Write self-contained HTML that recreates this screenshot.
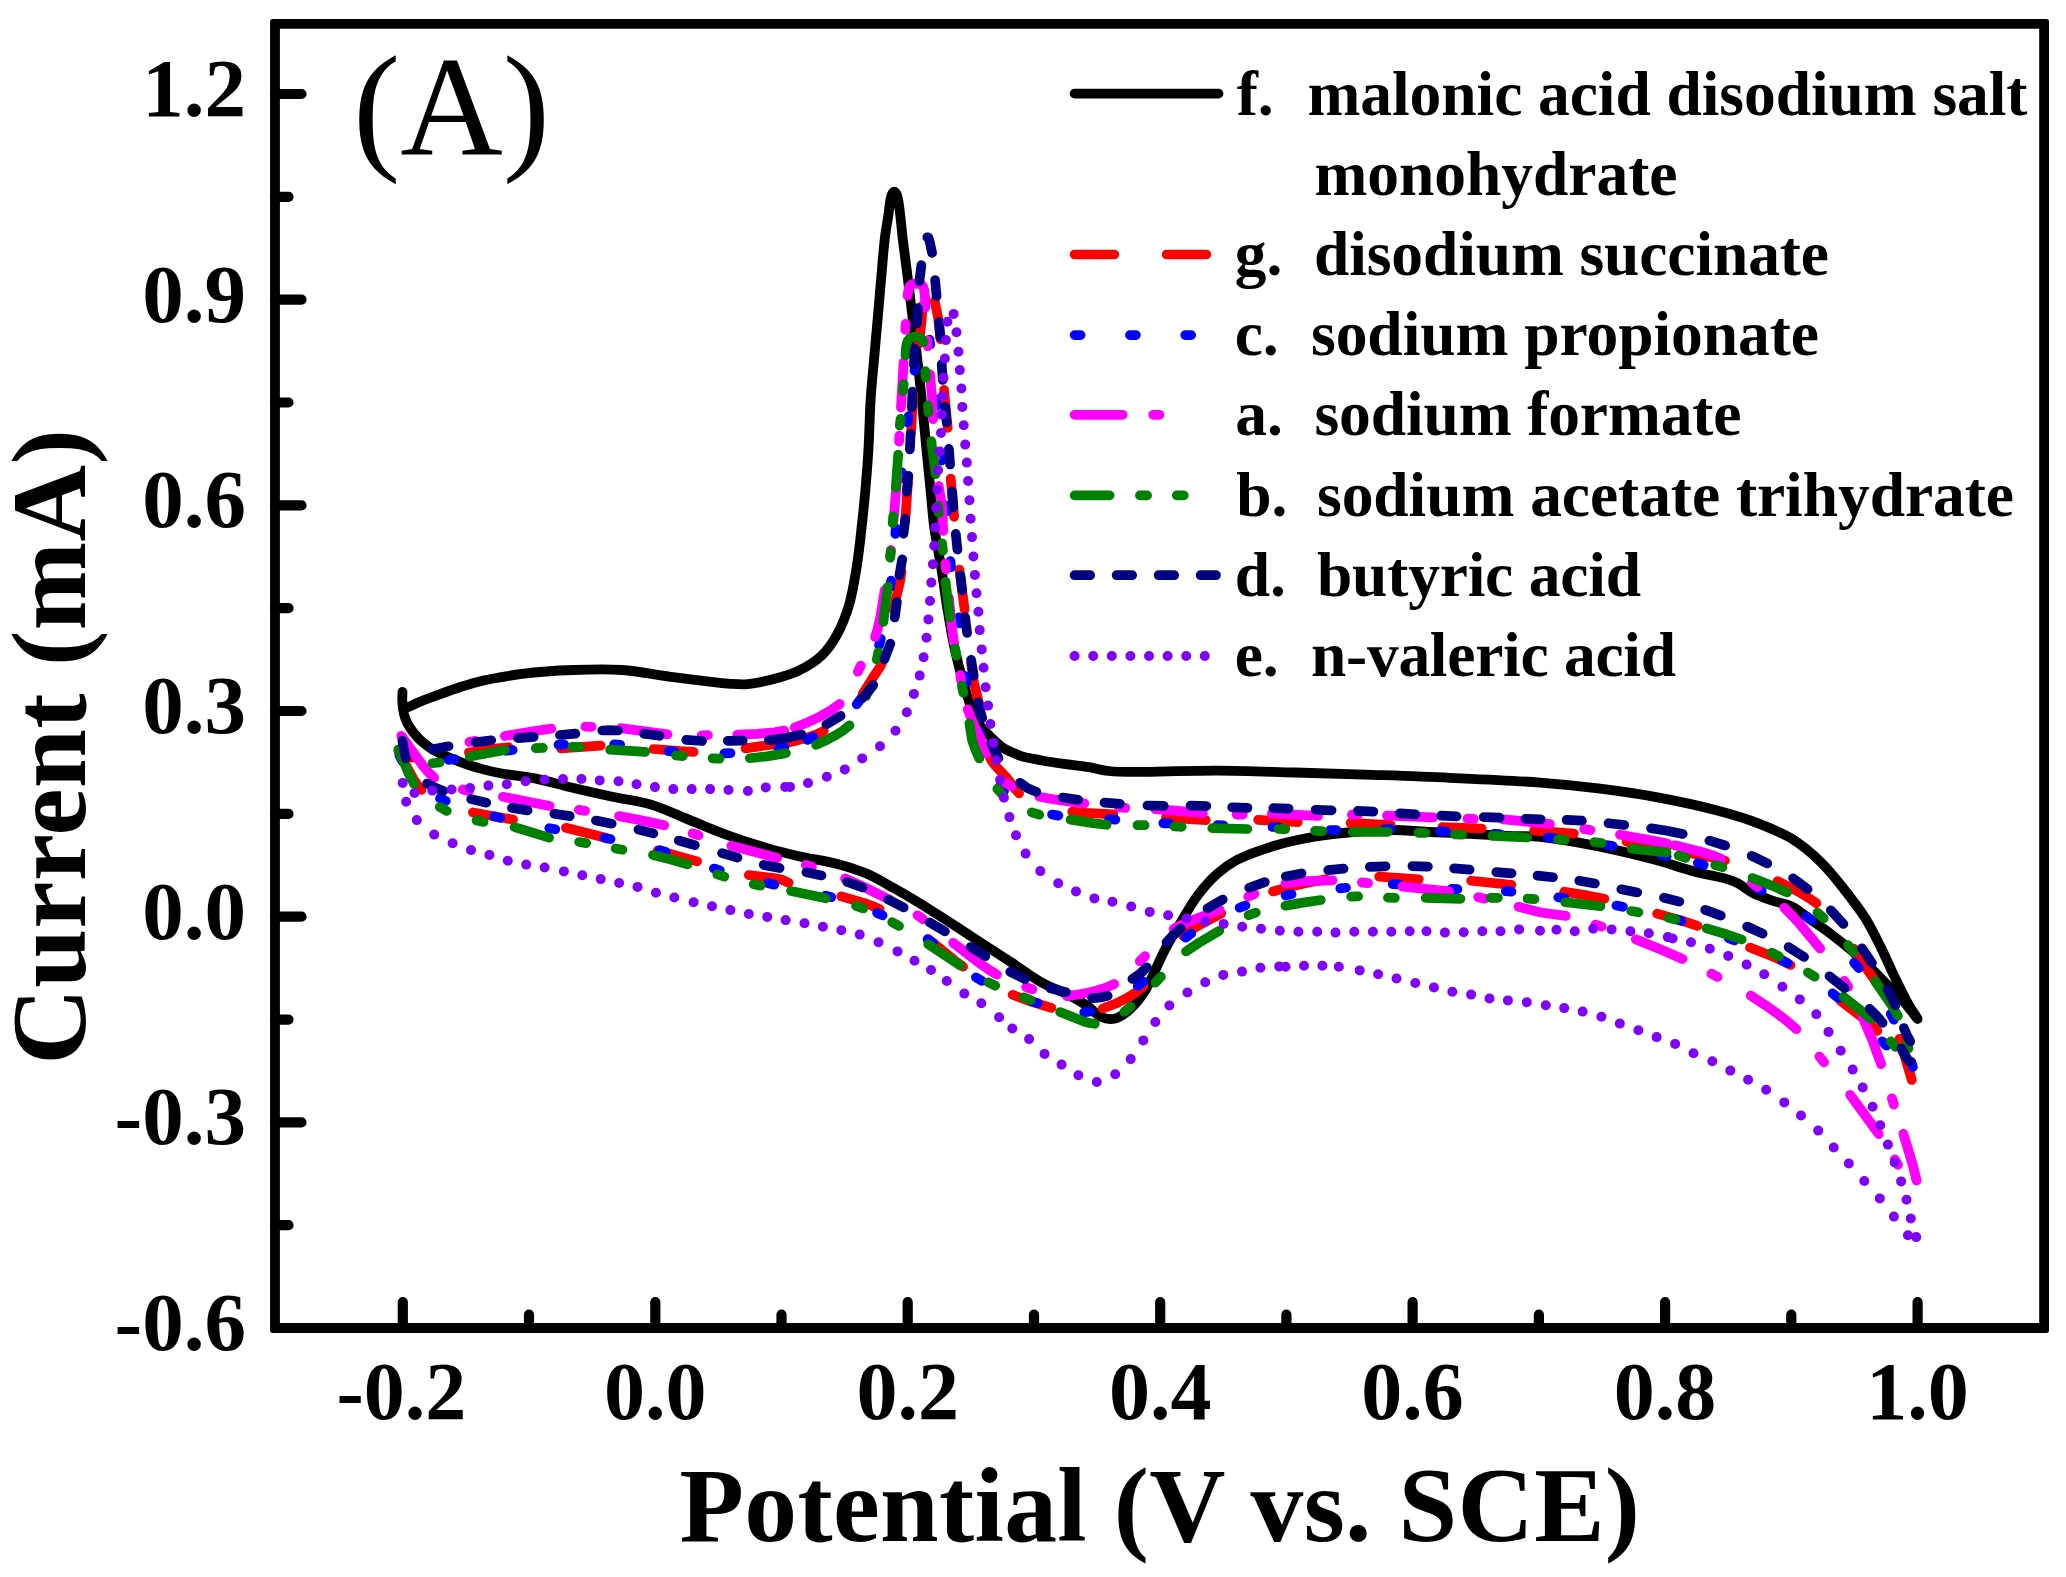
<!DOCTYPE html>
<html lang="en"><head><meta charset="utf-8"><title>Cyclic voltammograms (A)</title>
<style>html,body{margin:0;padding:0;background:#fff}body{width:2066px;height:1577px;overflow:hidden}svg{display:block}</style>
</head><body>
<svg width="2066" height="1577" viewBox="0 0 2066 1577">
<rect width="2066" height="1577" fill="#fff"/>
<g fill="none" stroke-linecap="round" stroke-linejoin="round">
<path id="cv-f" d="M402.5 691.8C402.4 694.7 402.2 697.4 402.3 700.4C402.4 703.7 402.7 707.4 403.3 710.6C403.8 713.5 404.4 716.0 405.4 718.7C406.4 721.5 407.8 724.2 409.4 726.8C411.1 729.6 413.2 732.3 415.5 734.9C417.9 737.7 420.6 740.6 423.6 743.1C426.7 745.7 430.2 748.1 433.8 750.2C437.6 752.4 441.7 754.3 446.0 756.2C450.8 758.3 455.7 760.3 461.2 762.3C467.4 764.6 474.7 767.0 481.5 768.9C488.2 770.8 494.2 772.1 501.8 773.5C511.5 775.3 523.5 776.2 534.9 778.4C547.3 780.9 560.7 785.0 573.6 788.1C586.5 791.2 599.4 794.1 612.3 796.8C625.2 799.6 638.3 800.8 651.1 804.6C664.1 808.5 676.9 814.9 689.8 820.1C702.7 825.2 715.5 830.8 728.5 835.5C741.3 840.2 754.9 844.6 767.2 848.1C778.2 851.3 787.6 853.6 798.7 856.2C810.9 858.9 825.6 860.8 837.4 863.9C847.9 866.7 857.0 869.5 866.5 873.6C876.3 877.8 885.2 883.3 895.5 889.1C907.6 895.9 921.4 904.3 934.2 912.3C947.2 920.4 960.1 929.1 973.0 937.5C985.9 945.9 999.7 954.8 1011.7 962.7C1022.1 969.5 1030.8 976.4 1040.7 982.0C1050.2 987.3 1061.2 991.0 1069.8 995.6C1077.0 999.4 1083.6 1003.3 1089.1 1007.2C1093.6 1010.4 1096.4 1014.9 1100.8 1016.9C1104.9 1018.7 1109.9 1019.6 1114.3 1018.8C1119.0 1017.9 1123.5 1014.6 1127.9 1011.1C1133.2 1006.7 1139.3 999.5 1143.3 993.6C1146.9 988.5 1148.6 984.2 1151.6 978.1C1155.7 970.0 1160.4 958.1 1165.2 949.1C1169.5 940.8 1173.7 934.1 1178.7 925.9C1184.5 916.2 1191.2 904.0 1198.1 894.9C1204.2 886.8 1210.6 879.6 1217.4 873.6C1223.6 868.2 1228.9 864.2 1236.8 860.0C1247.2 854.6 1262.5 849.4 1275.5 845.5C1288.3 841.7 1301.3 839.1 1314.2 836.8C1327.1 834.6 1340.0 833.1 1353.0 832.0C1365.9 830.8 1378.8 830.0 1391.7 830.0C1404.6 830.0 1417.5 831.3 1430.4 832.0C1443.3 832.6 1456.2 833.3 1469.1 833.9C1482.0 834.5 1495.6 835.3 1507.9 835.8C1519.1 836.3 1528.8 835.8 1540.0 836.8C1552.3 837.9 1565.8 840.4 1578.7 842.6C1591.7 844.9 1604.6 847.5 1617.4 850.4C1630.4 853.3 1643.3 856.5 1656.2 860.0C1669.1 863.6 1681.9 868.1 1694.9 871.7C1707.8 875.2 1723.2 877.0 1733.6 881.3C1741.5 884.6 1746.4 889.7 1753.0 893.0C1759.3 896.1 1765.8 898.4 1772.3 900.7C1778.7 902.9 1785.5 903.5 1791.7 906.5C1798.4 909.8 1804.6 915.5 1811.1 920.1C1817.5 924.6 1824.0 928.8 1830.4 933.6C1836.9 938.5 1843.4 943.7 1849.8 949.1C1856.3 954.6 1862.8 960.5 1869.1 966.5C1875.7 972.7 1882.6 980.0 1888.5 985.9C1893.4 990.8 1897.5 994.4 1902.1 999.4C1907.2 1005.2 1917.2 1019.1 1917.5 1018.8C1917.9 1018.6 1911.2 1009.3 1907.9 1003.3C1903.5 995.6 1898.8 985.4 1894.3 976.2C1889.7 966.7 1885.6 956.8 1880.8 947.2C1875.9 937.4 1871.2 927.6 1865.3 918.1C1859.0 908.2 1851.4 898.5 1844.0 889.1C1836.6 879.7 1829.3 870.3 1820.7 862.0C1812.0 853.5 1802.5 845.4 1791.7 838.7C1780.1 831.7 1766.0 826.2 1753.0 821.3C1740.2 816.6 1728.5 813.4 1714.2 809.7C1696.9 805.2 1675.6 800.7 1656.2 797.1C1636.9 793.6 1617.5 790.8 1598.1 788.4C1578.8 786.0 1561.5 784.2 1540.0 782.6C1513.2 780.5 1478.7 779.1 1449.8 777.8C1423.0 776.5 1398.1 775.7 1372.3 774.8C1346.5 774.0 1320.7 773.2 1294.9 772.5C1269.1 771.8 1243.3 770.7 1217.4 770.6C1191.6 770.5 1147.8 771.9 1140.0 771.9C1138.6 772.0 1138.8 772.0 1137.5 771.9C1133.2 771.9 1117.2 772.0 1108.5 771.0C1101.4 770.2 1096.0 768.2 1089.1 767.1C1081.3 765.8 1072.1 765.1 1063.9 763.9C1056.0 762.8 1048.1 761.6 1040.7 760.2C1033.9 758.9 1026.6 757.7 1021.3 756.1C1017.5 754.9 1014.7 753.5 1011.7 752.2C1008.9 751.0 1006.6 750.2 1003.9 748.4C1000.3 746.0 996.3 742.4 992.3 738.5C987.4 733.6 981.3 728.5 976.8 721.1C971.0 711.1 967.2 695.3 963.3 682.3C959.5 669.5 956.4 656.6 953.6 643.6C950.9 630.8 948.9 617.8 946.8 604.9C944.7 592.0 943.1 579.1 941.0 566.2C938.9 553.2 936.0 540.4 934.2 527.4C932.5 514.6 931.7 501.6 930.4 488.7C929.1 475.8 927.9 463.8 926.5 450.0C924.9 434.0 923.3 415.1 921.6 398.4C920.0 382.5 918.2 367.3 916.5 352.0C914.8 336.9 913.0 321.1 911.3 307.0C909.8 294.6 908.4 283.5 907.0 272.0C905.6 260.7 903.9 248.7 902.7 238.5C901.7 230.0 901.1 222.1 900.2 215.0C899.5 209.1 898.9 202.9 898.0 199.0C897.5 196.7 897.1 194.9 896.3 193.6C895.7 192.7 895.0 191.6 894.3 191.6C893.6 191.6 892.9 192.7 892.3 193.6C891.5 194.9 891.1 196.7 890.6 199.0C889.7 202.9 889.2 209.2 888.4 215.0C887.4 222.1 885.8 230.0 884.8 238.5C883.6 248.7 882.7 260.7 881.7 272.0C880.7 283.5 879.8 294.6 878.7 307.0C877.5 321.1 876.0 336.9 874.7 352.0C873.4 367.3 871.7 382.5 870.7 398.4C869.6 415.1 869.4 434.0 868.4 450.0C867.6 463.8 866.6 475.8 865.5 488.7C864.4 501.6 863.1 514.5 861.6 527.4C860.2 540.4 858.9 553.3 856.8 566.2C854.7 579.1 852.6 593.1 849.1 604.9C845.9 615.4 842.2 625.3 837.4 633.9C833.1 641.9 828.3 649.2 822.0 655.2C815.4 661.5 806.4 666.9 798.7 670.7C792.2 674.0 786.7 675.5 779.4 677.5C770.2 680.1 757.1 683.3 747.9 684.1C740.7 684.8 736.7 684.2 728.5 683.6C714.3 682.5 688.9 679.2 670.4 676.8C653.5 674.6 638.2 671.1 622.0 670.0C605.9 668.9 590.0 669.4 573.6 670.0C556.7 670.6 535.2 672.2 522.0 673.8C513.7 674.8 508.5 675.9 501.8 677.1C495.0 678.3 488.2 679.3 481.5 680.9C474.7 682.5 467.9 684.6 461.2 686.7C454.4 688.9 447.7 691.3 440.9 693.8C434.1 696.3 426.6 699.0 420.6 701.5C415.8 703.5 411.9 705.4 407.6 707.3" stroke="#000000" stroke-width="9.8"/>
<path id="cv-g" d="M398.4 751.3L413.4 778.8L417.6 785.2L421.4 789.9M472.9 812.4L513.0 819.6M565.9 827.8L605.5 837.7M657.8 850.4L697.1 861.3M748.8 875.1L777.7 878.6L782.6 880.0L788.7 882.8M841.3 896.3L863.6 902.8L872.0 905.8L879.7 909.2M928.1 938.8L953.9 959.8L963.1 966.7M1012.6 994.8L1031.1 1001.7L1051.4 1007.9M1102.7 1008.5L1115.3 1003.8L1126.7 998.2L1136.1 992.3L1143.5 986.1M1183.0 935.8L1190.0 930.8L1197.7 925.9L1221.2 913.4M1273.0 891.5L1285.6 887.9M1285.6 887.9L1307.2 882.7L1325.9 879.4M1379.1 876.6L1418.8 879.3M1471.1 880.7L1511.3 884.9M1564.2 891.7L1587.0 895.4L1604.4 898.8M1657.1 913.7L1681.8 920.7L1697.4 925.8M1750.0 947.6L1775.8 957.8L1790.5 965.0M1840.7 1000.8L1863.8 1018.7L1871.5 1025.3L1877.4 1031.0M1911.8 1080.0L1899.5 1038.8M1878.0 985.0L1869.1 972.3L1853.5 948.5M1816.4 903.3L1809.4 898.4L1801.2 893.3L1777.6 881.1M1724.9 860.6L1708.7 856.7L1685.1 852.2M1666.6 848.6L1626.6 841.6M1573.9 833.7L1534.1 830.6M1481.7 828.5L1442.4 827.1M1390.7 825.0L1350.6 822.9M1297.8 822.1L1258.1 819.8M1205.8 820.2L1165.9 817.6M1113.3 814.3L1085.9 812.9L1072.2 811.7M1019.1 793.4L1015.4 789.2L1005.9 776.8L994.6 764.9L992.1 761.6L989.9 757.4M979.2 703.9L974.1 683.3L971.1 663.3M964.6 609.7L959.4 569.6M954.1 516.8L950.7 478.5M947.7 428.0L944.0 389.8M940.5 339.3L938.2 318.2L934.7 301.0M922.6 305.6L921.6 321.4L918.7 343.9M913.2 394.3L911.0 432.6M907.9 483.1L905.2 521.4M901.6 571.8L899.8 582.5L895.9 599.2L893.8 610.1M883.2 660.4L879.4 668.1L872.3 678.5L862.6 694.1M823.8 730.8L816.6 734.4L808.1 737.4L798.1 740.2L784.8 743.2M784.8 743.2L760.7 746.1L745.5 748.4M693.6 751.9L680.1 751.2L653.5 749.0M600.7 745.6L561.0 748.4M508.7 747.2L497.4 748.4L468.9 752.5M416.3 757.2L405.2 758.1" stroke="#ff0000" stroke-width="9.7"/>
<path id="cv-c" d="M399.4 755.2L402.3 761.1M440.0 798.4L445.8 801.0M494.1 816.4L500.1 817.9M549.3 828.2L555.3 829.3M604.5 837.9L610.5 839.1M659.7 850.2L665.6 851.9M713.9 868.5L719.8 870.3M768.1 883.2L774.4 884.7M825.7 895.6L831.3 897.2M877.1 913.0L882.6 915.4M927.5 939.5L933.0 943.1M975.9 977.4L981.8 980.9M1031.9 1001.4L1037.6 1003.1M1084.2 1012.4L1090.2 1011.5M1137.7 986.0L1143.5 981.5M1185.7 937.7L1191.2 933.5M1239.6 907.7L1245.5 905.4M1285.6 895.4L1291.6 894.3M1340.3 888.4L1346.0 887.8M1392.6 884.2L1399.0 884.3M1451.6 888.9L1457.5 889.2M1505.8 891.2L1511.5 891.6M1558.3 897.4L1564.6 898.2M1616.4 905.6L1622.8 906.8M1675.4 919.2L1681.2 920.9M1728.7 938.3L1734.5 940.5M1782.0 960.1L1787.7 963.2M1832.6 993.4L1838.3 998.1M1882.2 1041.4L1886.4 1045.7M1912.9 1067.1L1911.3 1061.9M1893.9 1019.7L1890.8 1013.9M1858.8 968.2L1854.1 962.6M1811.8 920.3L1806.7 916.3M1761.7 890.5L1755.5 887.4M1703.7 864.9L1697.8 863.0M1666.7 856.3L1660.9 855.1M1612.7 846.0L1606.3 845.0M1553.7 838.1L1547.8 837.5M1499.8 834.2L1494.0 833.9M1446.0 831.5L1440.0 831.2M1390.8 829.1L1384.9 829.0M1336.6 830.1L1330.3 830.0M1278.5 827.3L1272.5 827.0M1223.4 825.3L1217.5 825.1M1169.1 823.3L1163.3 823.3M1115.4 819.6L1109.2 819.2M1058.3 815.6L1052.0 814.5M1004.0 791.2L1000.2 785.6M981.1 737.2L979.3 731.3M966.8 682.4L965.6 676.0M959.8 623.4L959.0 617.3M951.1 567.2L950.4 561.1M947.1 511.1L946.6 505.6M941.3 460.7L940.7 454.8M936.5 406.0L935.8 399.3M930.2 344.7L929.5 339.7M915.6 365.2L914.4 370.7M908.5 416.4L907.7 422.5M901.9 472.4L901.3 478.4M895.8 528.3L895.3 534.0M891.1 580.6L890.2 586.9M880.8 638.7L879.1 645.3M860.7 698.9L856.7 704.3M813.2 736.9L807.5 739.9M784.4 747.5L778.6 748.4M730.5 753.1L724.4 753.3M674.4 751.6L668.5 751.1M620.2 744.8L614.1 744.4M564.0 744.4L558.5 744.7M512.7 750.0L506.4 750.8M454.6 759.2L448.7 760.0" stroke="#0000ff" stroke-width="9.7"/>
<path id="cv-a" d="M401.3 735.8L423.0 765.9L428.9 772.9L434.1 777.6M462.8 789.4L469.0 791.0M502.9 796.8L549.6 806.0M578.9 809.9L585.1 810.8M619.1 816.1L643.9 820.9L664.3 825.3M692.6 833.4L698.5 835.2M731.4 845.7L777.1 858.0M805.9 864.9L811.9 866.6M845.1 878.5L866.1 888.0L889.8 899.8M917.5 915.3L923.1 919.2M953.2 942.8L980.7 964.0L989.3 970.0L996.8 974.6M1026.2 987.1L1032.4 989.4M1066.9 996.1L1080.5 994.2L1094.5 991.2L1106.0 987.7L1114.2 984.0M1139.8 961.3L1145.0 956.2M1173.7 928.8L1180.3 925.4L1188.7 921.7L1219.6 910.0M1248.3 896.6L1254.4 894.0M1285.5 883.4L1294.8 882.2L1305.8 881.2L1332.5 880.4M1361.9 882.5L1368.1 883.1M1402.4 886.7L1449.1 891.3M1478.3 897.2L1484.5 898.6M1518.5 906.8L1540.8 912.5L1565.8 915.9M1595.4 924.6L1601.6 926.7M1635.8 939.4L1662.6 950.2L1682.5 958.9M1711.4 973.7L1717.5 976.9M1750.8 995.6L1765.2 1005.1L1777.7 1013.9L1788.1 1022.0L1796.3 1029.1M1819.4 1056.5L1824.1 1062.3M1850.2 1094.8L1878.8 1134.1M1894.8 1159.4L1898.0 1164.8M1916.6 1180.5L1913.0 1166.0L1903.4 1133.7M1893.8 1104.5L1891.9 1098.3M1881.1 1064.2L1872.1 1039.6L1862.4 1016.5M1848.1 986.9L1844.3 980.8M1820.2 948.6L1800.2 924.5L1791.9 915.5L1784.3 907.8M1757.5 887.0L1751.9 882.6M1721.1 858.7L1713.6 855.7L1704.5 852.8L1674.7 845.3M1667.0 843.5L1648.1 839.7L1620.0 834.7M1590.4 830.0L1584.2 829.1M1549.9 824.2L1522.7 821.1L1503.1 819.4M1473.7 818.9L1467.5 818.7M1433.3 817.3L1387.0 815.6M1358.0 814.6L1351.9 814.6M1318.1 815.8L1271.8 813.6M1242.8 814.5L1236.7 814.5M1202.9 813.2L1155.3 809.0M1125.3 807.9L1119.1 807.4M1084.3 803.3L1055.7 799.7L1039.4 796.8M1011.6 786.4L1005.9 783.3M986.1 753.5L982.2 742.7L971.9 720.0L967.7 709.3M961.3 681.2L960.3 675.2M954.0 642.5L951.5 624.6L948.9 597.7M946.1 569.5L945.5 563.6M943.2 530.9L942.1 506.8L938.7 486.0M935.0 457.9L934.4 452.0M933.0 419.2L932.2 400.4L930.1 374.4M927.7 346.2L927.3 340.3M925.2 307.6L925.0 297.3L924.4 291.1L923.3 287.0L921.4 284.7L919.0 283.8L915.1 283.6L912.8 284.0L910.7 285.2L909.6 286.6L908.8 288.5L907.5 295.7M905.6 323.9L905.3 329.8M903.6 362.5L901.0 407.4M899.4 435.6L899.1 441.5M897.5 474.2L893.5 520.8M891.0 550.0L890.2 556.2M884.8 590.1L879.8 620.0L877.5 629.5L875.1 636.9M860.8 665.6L857.9 671.7M839.7 704.0L831.5 710.0L820.5 716.3L808.1 722.2L794.7 727.5M784.2 730.7L774.6 732.3L757.5 733.9L737.3 734.7M707.9 735.2L701.7 735.3M667.5 734.4L620.8 728.2M591.6 726.8L585.4 726.7M551.3 728.6L534.7 731.0L504.8 736.0M475.5 740.9L469.4 741.9" stroke="#ff00ff" stroke-width="9.8"/>
<path id="cv-b" d="M398.4 749.4L408.9 774.0L414.1 784.0M439.8 807.1L446.8 810.9M476.5 820.5L483.6 822.0M514.6 827.1L549.1 837.7M579.1 842.0L586.2 843.1M615.6 848.5L622.5 849.7M653.0 855.0L669.2 859.1L687.5 864.3M717.3 874.4L724.3 876.6M753.6 884.3L760.5 885.7M791.0 891.0L825.9 898.3M856.1 905.9L863.2 908.5M892.2 922.2L899.0 925.9M928.2 944.3L960.2 965.5M988.4 982.4L995.2 985.7M1023.7 997.3L1030.5 1000.1M1060.1 1012.0L1082.7 1021.1L1089.2 1023.0L1094.8 1023.8M1124.2 1011.9L1130.6 1006.5M1155.4 982.6L1160.9 976.7M1186.0 951.5L1198.8 942.9L1219.3 930.8M1248.6 915.1L1255.8 912.6M1285.4 905.7L1285.9 905.6M1285.9 905.6L1301.4 902.9L1320.8 900.0M1351.1 896.6L1358.2 896.4M1387.9 897.7L1394.9 897.9M1425.6 897.9L1460.5 898.8M1490.7 897.8L1497.9 897.8M1527.5 898.7L1534.5 899.1M1565.2 902.2L1600.5 906.3M1631.2 911.0L1638.4 912.3M1668.4 917.8L1675.5 919.5M1706.5 928.3L1727.1 934.5L1741.7 939.5M1771.8 952.7L1778.9 956.3M1807.9 972.5L1814.6 976.7M1843.5 996.9L1859.1 1009.0L1870.7 1018.8M1890.8 1041.4L1895.4 1046.9M1908.5 1048.4L1907.1 1042.4M1897.9 1015.9L1890.8 1003.9L1875.1 981.2M1853.5 951.8L1848.0 945.1M1823.8 918.2L1817.4 912.6M1787.0 892.4L1773.4 886.2L1752.5 878.0M1722.4 867.2L1715.2 865.2M1685.6 857.8L1678.6 855.5M1666.6 852.4L1631.8 848.8M1601.6 843.0L1594.4 842.0M1564.9 839.8L1557.9 839.3M1527.2 837.5L1492.4 835.9M1462.2 834.6L1455.0 834.3M1425.5 833.0L1418.5 832.8M1387.8 831.9L1352.7 832.0M1322.3 831.1L1315.1 830.8M1285.3 829.2L1278.3 829.0M1247.4 829.0L1212.2 828.2M1181.7 826.8L1174.5 826.5M1144.6 825.2L1137.5 825.2M1106.5 824.8L1093.0 823.1L1070.5 819.6M1039.2 814.7L1031.8 812.3M1002.8 795.1L997.3 788.9M979.3 758.5L974.9 748.5L972.0 740.0L969.4 723.4M963.3 692.8L961.9 685.6M956.4 655.6L955.1 648.5M950.0 617.5L945.5 581.7M942.9 550.6L942.1 543.3M938.8 512.9L938.3 505.7M935.6 474.2L931.3 441.2M928.5 412.5L927.9 405.7M925.9 377.7L925.4 371.1M923.6 342.0L922.6 340.1L921.5 338.8L917.8 336.9L913.4 336.7L909.9 338.2L907.9 340.4L906.7 343.5L905.9 348.4L905.5 355.5M903.7 384.1L903.1 390.9M900.5 418.9L899.8 425.6M898.2 454.6L895.8 487.7M893.2 516.3L892.7 523.1M890.7 551.1L890.2 557.7M887.8 586.8L883.4 621.9M878.3 652.3L876.8 659.5M868.7 689.3L866.2 696.2M849.5 725.4L843.1 730.5L835.5 735.3L826.7 740.0L816.1 744.9M785.9 753.1L784.7 753.4M784.7 753.4L766.9 756.4L749.8 758.2M719.6 758.6L712.5 758.3M682.9 756.1L675.9 755.4M645.2 751.9L610.1 749.7M579.8 747.0L572.5 746.8M542.8 747.9L535.8 748.2M504.9 750.0L469.9 756.4M439.6 762.5L432.4 763.3" stroke="#008000" stroke-width="9.7"/>
<path id="cv-d" d="M402.3 740.7L404.6 753.4L405.9 758.2M427.1 783.5L434.2 787.3L443.3 791.0M471.2 799.1L486.3 802.7M511.9 807.9L527.6 810.4M554.3 813.8L569.8 816.1M595.9 820.6L611.7 823.7M638.4 829.6L653.4 833.4M678.7 840.5L694.8 845.2M722.1 853.2L737.5 857.6M763.7 864.9L779.6 868.1M806.4 872.3L821.5 875.4M847.2 882.0L862.5 887.5M888.3 899.5L903.7 907.5M929.6 922.4L944.9 931.4M970.6 947.0L985.3 956.2M1010.2 971.8L1025.0 979.1M1050.4 988.3L1065.9 992.2M1092.1 998.1L1100.8 997.5L1107.7 995.8M1132.4 978.9L1140.4 973.4L1146.9 967.3M1166.5 942.3L1171.9 936.5L1180.8 928.4M1207.5 908.4L1222.7 899.5M1249.2 887.7L1264.8 882.1M1285.8 876.5L1301.5 873.4M1328.2 870.2L1343.6 868.7M1369.8 866.9L1385.6 866.3M1412.4 866.1L1427.9 866.6M1454.1 868.4L1469.7 869.7M1496.3 872.1L1511.6 873.4M1537.5 875.6L1553.0 877.3M1579.3 880.7L1594.9 883.5M1621.3 889.3L1637.2 892.5M1664.0 897.7L1679.3 901.6M1705.2 909.9L1720.8 915.6M1747.1 926.5L1762.6 933.7M1788.6 947.1L1804.1 957.0M1829.5 976.3L1844.6 988.1M1869.7 1008.8L1876.3 1015.5L1882.6 1022.8M1901.2 1048.5L1906.7 1058.0L1909.2 1061.4M1910.3 1041.4L1906.7 1034.9L1903.9 1028.0M1895.4 1005.1L1887.6 989.3M1872.0 963.1L1862.0 948.3M1843.4 924.0L1830.8 910.3M1807.6 889.1L1793.1 878.4M1767.3 863.4L1751.7 855.8M1725.1 845.5L1709.4 840.7M1682.7 834.0L1667.0 830.8M1667.0 830.8L1651.1 828.3M1624.3 825.0L1608.5 823.2M1581.9 820.7L1566.6 819.9M1540.7 819.4L1525.5 818.8M1499.6 817.7L1483.6 817.2M1456.6 816.4L1441.3 815.7M1415.4 814.4L1399.8 813.4M1373.4 811.6L1357.9 810.9M1331.6 810.3L1315.6 809.8M1288.6 808.6L1273.3 808.2M1247.5 807.9L1232.2 807.4M1206.4 806.1L1190.5 805.7M1163.7 805.9L1147.4 805.5M1120.0 803.9L1104.5 802.7M1078.2 799.9L1062.7 797.5M1036.3 791.9L1027.8 788.2L1020.0 782.8M998.5 758.0L995.0 751.5L991.3 743.3M982.2 718.1L978.2 702.4M973.7 675.7L971.1 659.8M967.1 633.0L965.1 617.2M962.2 590.5L960.4 575.3M957.4 549.6L955.8 533.9M953.4 507.3L952.1 491.4M950.1 464.5L948.9 448.9M946.7 422.7L945.2 406.8M942.7 379.9L941.7 364.1M940.3 337.2L939.1 322.0M936.6 296.1L935.1 280.1M932.1 252.9L929.3 240.0L928.1 237.3L927.3 237.3M921.4 265.2L919.4 281.2M917.9 308.1L917.0 323.3M915.0 348.9L913.8 364.8M912.5 391.7L911.8 407.3M910.6 433.8L909.9 449.4M908.4 475.9L906.7 491.8M905.3 518.7L903.5 533.8M902.2 559.4L899.4 575.2M896.9 602.0L894.7 617.5M890.3 643.6L884.5 659.1M873.3 685.0L868.5 691.3L862.5 697.9M840.6 715.8L826.4 724.4M801.6 734.5L785.9 737.9M784.3 738.2L768.9 740.2M742.8 740.7L727.7 740.8M702.0 741.0L686.2 739.9M659.5 735.8L644.1 733.7M618.0 730.5L610.0 730.2L602.2 730.5M575.4 733.6L559.9 735.0M533.7 736.8L517.9 738.1M491.2 740.3L475.3 742.2M448.6 746.3L432.8 749.2" stroke="#000080" stroke-width="9.7"/>
<path id="cv-e" d="M402.7 782.9h.01M406.1 801.7h.01M416.8 820.1h.01M434.2 834.6h.01M452.6 843.3h.01M471.0 850.1h.01M489.4 854.9h.01M507.8 860.7h.01M526.2 864.6h.01M544.6 867.5h.01M563.9 871.4h.01M582.3 875.2h.01M600.7 879.1h.01M619.1 883.0h.01M637.5 886.9h.01M655.9 892.7h.01M674.3 897.5h.01M693.6 902.3h.01M712.0 906.2h.01M730.4 910.1h.01M748.8 914.0h.01M767.2 916.9h.01M785.6 920.1h.01M804.5 923.3h.01M822.9 926.8h.01M841.3 930.3h.01M859.7 934.6h.01M878.5 942.3h.01M897.5 951.4h.01M914.5 960.7h.01M931.0 970.0h.01M946.8 981.0h.01M964.3 993.6h.01M981.3 1003.3h.01M999.1 1017.3h.01M1012.3 1028.5h.01M1029.1 1039.1h.01M1044.5 1053.9h.01M1061.6 1064.6h.01M1078.4 1075.2h.01M1096.8 1082.0h.01M1115.2 1074.2h.01M1130.7 1059.1h.01M1143.3 1040.4h.01M1155.3 1022.0h.01M1169.4 1005.5h.01M1187.4 992.5h.01M1205.2 982.3h.01M1223.3 974.9h.01M1242.0 971.6h.01M1260.4 967.8h.01M1279.2 966.4h.01M1285.6 966.8h.01M1304.0 965.8h.01M1322.4 965.8h.01M1338.8 966.8h.01M1359.7 970.4h.01M1378.1 974.3h.01M1396.5 978.5h.01M1415.3 983.0h.01M1433.9 987.4h.01M1452.3 991.7h.01M1471.1 994.6h.01M1489.5 998.5h.01M1507.9 1000.4h.01M1526.8 1002.3h.01M1545.8 1005.2h.01M1564.2 1008.1h.01M1582.6 1011.6h.01M1601.4 1016.8h.01M1619.8 1023.6h.01M1638.4 1030.3h.01M1656.6 1037.1h.01M1675.1 1043.9h.01M1693.5 1053.2h.01M1712.3 1061.3h.01M1730.3 1070.6h.01M1748.1 1079.7h.01M1766.1 1089.8h.01M1784.3 1102.4h.01M1801.0 1115.5h.01M1818.2 1130.6h.01M1833.7 1147.5h.01M1848.8 1163.5h.01M1864.3 1181.0h.01M1879.8 1198.4h.01M1893.9 1216.6h.01M1907.9 1235.2h.01M1916.2 1237.1h.01M1910.8 1218.5h.01M1906.5 1199.7h.01M1901.1 1181.4h.01M1894.7 1162.4h.01M1887.9 1144.6h.01M1880.2 1125.2h.01M1872.6 1106.8h.01M1862.7 1087.5h.01M1852.7 1069.6h.01M1840.7 1050.7h.01M1828.5 1031.9h.01M1816.3 1014.3h.01M1799.8 999.4h.01M1782.4 986.8h.01M1764.2 974.3h.01M1746.6 964.6h.01M1728.2 955.9h.01M1709.8 948.7h.01M1691.0 942.3h.01M1672.6 938.5h.01M1667.8 937.1h.01M1648.8 933.2h.01M1630.4 931.3h.01M1611.6 929.4h.01M1593.2 928.8h.01M1574.8 931.3h.01M1556.5 929.7h.01M1540.0 930.7h.01M1519.1 929.4h.01M1500.5 931.3h.01M1482.3 931.3h.01M1463.7 932.3h.01M1444.9 932.6h.01M1426.5 931.3h.01M1409.7 931.3h.01M1391.3 931.7h.01M1372.9 931.7h.01M1354.3 931.7h.01M1335.5 932.6h.01M1317.2 931.7h.01M1298.4 931.7h.01M1279.8 930.7h.01M1261.0 928.8h.01M1242.2 926.8h.01M1223.6 923.9h.01M1205.4 921.6h.01M1186.5 918.5h.01M1168.1 915.2h.01M1149.7 911.9h.01M1131.2 906.5h.01M1112.4 901.7h.01M1094.4 898.4h.01M1076.0 891.4h.01M1058.2 883.3h.01M1040.3 871.1h.01M1025.6 853.6h.01M1016.0 835.3h.01M1009.4 817.1h.01M1003.9 797.7h.01M1000.1 779.7h.01M996.2 760.3h.01M993.3 742.9h.01M990.4 724.0h.01M988.1 705.6h.01M985.6 687.2h.01M983.6 667.8h.01M981.7 649.4h.01M979.7 630.1h.01M978.4 611.7h.01M976.5 593.3h.01M974.9 574.9h.01M973.4 556.5h.01M972.0 537.1h.01M970.6 518.7h.01M969.5 500.3h.01M968.1 481.0h.01M966.8 462.6h.01M965.2 444.6h.01M963.7 425.2h.01M962.3 406.9h.01M961.4 388.5h.01M959.8 370.1h.01M958.5 351.7h.01M956.5 332.3h.01M953.6 313.9h.01M947.4 321.7h.01M945.9 340.1h.01M944.9 358.5h.01M943.5 377.8h.01M942.4 396.2h.01M941.6 414.6h.01M941.0 433.0h.01M939.7 451.4h.01M938.1 470.3h.01M937.2 489.7h.01M936.2 508.1h.01M935.2 527.4h.01M934.2 545.8h.01M932.9 564.2h.01M931.3 582.6h.01M930.0 601.0h.01M928.4 619.4h.01M926.5 637.8h.01M923.6 657.2h.01M919.7 675.6h.01M913.9 693.9h.01M906.8 712.3h.01M895.5 730.7h.01M880.0 746.2h.01M862.2 758.4h.01M844.8 769.4h.01M826.8 776.8h.01M808.0 783.0h.01M790.0 786.9h.01M785.2 786.9h.01M765.8 787.4h.01M747.9 791.0h.01M728.5 790.0h.01M710.1 789.1h.01M691.7 789.1h.01M673.3 789.1h.01M654.9 787.1h.01M636.5 784.2h.01M618.5 781.3h.01M599.7 780.4h.01M581.4 779.0h.01M563.0 779.0h.01M544.6 779.8h.01M525.6 781.3h.01M506.8 784.2h.01M488.4 785.6h.01M470.0 788.1h.01M451.6 789.5h.01M432.3 790.6h.01M414.5 793.0h.01" stroke="#8000ff" stroke-width="10"/>
</g>
<g fill="none" stroke="#000" stroke-width="9.8" stroke-linecap="round" stroke-linejoin="round">
<path stroke="none" fill="#000" fill-rule="evenodd" d="M272.70000000000005 18.9H2046.4Q2049.0 18.9 2049.0 21.5V1330.3000000000002Q2049.0 1332.9 2046.4 1332.9H272.70000000000005Q270.1 1332.9 270.1 1330.3000000000002V21.5Q270.1 18.9 272.70000000000005 18.9ZM279.9 28.700000000000003V1323.1H2039.1999999999998V28.700000000000003Z"/>
<path d="M275.0 94.0H301.5M275.0 196.8H288.5M275.0 299.7H301.5M275.0 402.5H288.5M275.0 505.4H301.5M275.0 608.2H288.5M275.0 711.0H301.5M275.0 813.9H288.5M275.0 916.7H301.5M275.0 1019.6H288.5M275.0 1122.4H301.5M275.0 1225.2H288.5M402.8 1328.0V1302.0M529.0 1328.0V1314.5M655.3 1328.0V1302.0M781.5 1328.0V1314.5M907.7 1328.0V1302.0M1034.0 1328.0V1314.5M1160.2 1328.0V1302.0M1286.4 1328.0V1314.5M1412.6 1328.0V1302.0M1538.9 1328.0V1314.5M1665.1 1328.0V1302.0M1791.3 1328.0V1314.5M1917.6 1328.0V1302.0" stroke-width="10.2"/>
</g>
<g font-family="'Liberation Serif', 'Times New Roman', serif" font-weight="bold" fill="#000">
<text x="246" y="116.0" font-size="83" text-anchor="end">1.2</text>
<text x="246" y="321.7" font-size="83" text-anchor="end">0.9</text>
<text x="246" y="527.4" font-size="83" text-anchor="end">0.6</text>
<text x="246" y="733.0" font-size="83" text-anchor="end">0.3</text>
<text x="246" y="938.7" font-size="83" text-anchor="end">0.0</text>
<text x="246" y="1144.4" font-size="83" text-anchor="end">-0.3</text>
<text x="246" y="1350.1" font-size="83" text-anchor="end">-0.6</text>
<text x="401.3" y="1419" font-size="82" text-anchor="middle">-0.2</text>
<text x="655.3" y="1419" font-size="82" text-anchor="middle">0.0</text>
<text x="907.7" y="1419" font-size="82" text-anchor="middle">0.2</text>
<text x="1160.2" y="1419" font-size="82" text-anchor="middle">0.4</text>
<text x="1412.6" y="1419" font-size="82" text-anchor="middle">0.6</text>
<text x="1665.1" y="1419" font-size="82" text-anchor="middle">0.8</text>
<text x="1917.6" y="1419" font-size="82" text-anchor="middle">1.0</text>
<text x="679.5" y="1541" font-size="105.5" textLength="960.5" lengthAdjust="spacing">Potential (V vs. SCE)</text>
<text transform="translate(85,1064.8) rotate(-90)" font-size="106" textLength="635.5" lengthAdjust="spacing">Current (mA)</text>
<text x="353" y="153.7" font-size="142" font-weight="normal">(A)</text>
<text x="1236.7" y="115.3" font-size="63.5">f.</text>
<text x="1307.5" y="115.3" font-size="63.5" textLength="720" lengthAdjust="spacing">malonic acid disodium salt</text>
<text x="1314.5" y="195.2" font-size="63.5" textLength="363" lengthAdjust="spacing">monohydrate</text>
<text x="1234.7" y="275.1" font-size="63.5">g.</text>
<text x="1314.0" y="275.1" font-size="63.5" textLength="515" lengthAdjust="spacing">disodium succinate</text>
<text x="1234.7" y="355.4" font-size="63.5">c.</text>
<text x="1311.0" y="355.4" font-size="63.5" textLength="508" lengthAdjust="spacing">sodium propionate</text>
<text x="1235.2" y="435.3" font-size="63.5">a.</text>
<text x="1314.5" y="435.3" font-size="63.5" textLength="427" lengthAdjust="spacing">sodium formate</text>
<text x="1236.2" y="515.9" font-size="63.5">b.</text>
<text x="1317.0" y="515.9" font-size="63.5" textLength="697" lengthAdjust="spacing">sodium acetate trihydrate</text>
<text x="1234.7" y="596.3" font-size="63.5">d.</text>
<text x="1317.0" y="596.3" font-size="63.5" textLength="324" lengthAdjust="spacing">butyric acid</text>
<text x="1234.7" y="676.1" font-size="63.5">e.</text>
<text x="1311.0" y="676.1" font-size="63.5" textLength="365" lengthAdjust="spacing">n-valeric acid</text>
</g>
<g fill="none" stroke-linecap="round">
<path d="M1074.6 93.6H1218.5" stroke="#000000" stroke-width="9.8"/>
<path d="M1074.6 254.5H1210" stroke="#ff0000" stroke-width="9.7" stroke-dasharray="39.7 52.3"/>
<path d="M1074.6 335.1H1192" stroke="#0000ff" stroke-width="9.7" stroke-dasharray="6 49.3"/>
<path d="M1074.7 414.8H1160" stroke="#ff00ff" stroke-width="9.8" stroke-dasharray="48 30.5 6.2 35.3"/>
<path d="M1074.6 495.4H1185" stroke="#008000" stroke-width="9.7" stroke-dasharray="35 30.3 7.2 29.7 7 30.8"/>
<path d="M1074.6 575.2H1216" stroke="#000080" stroke-width="9.7" stroke-dasharray="15.6 26.4"/>
<path d="M1074.6 656.0H1206" stroke="#8000ff" stroke-width="10" stroke-dasharray="0.01 18.59"/>
</g>
</svg>
</body></html>
